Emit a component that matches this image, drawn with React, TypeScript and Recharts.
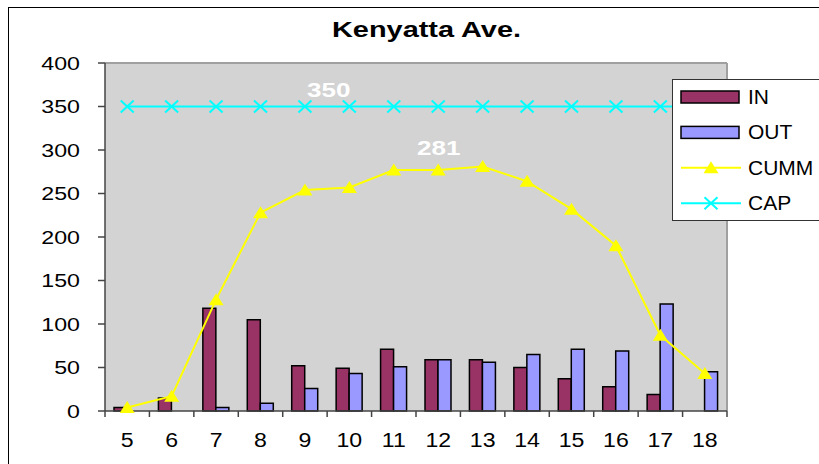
import React from "react";
import {
  Bar,
  CartesianGrid,
  ComposedChart,
  LabelList,
  Legend,
  Line,
  XAxis,
  YAxis,
} from "recharts";

const hours = ["5", "6", "7", "8", "9", "10", "11", "12", "13", "14", "15", "16", "17", "18"];
const inflow = [4, 15, 118, 105, 52, 49, 71, 59, 59, 50, 37, 28, 19, 0];
const outflow = [0, 0, 4, 9, 26, 43, 51, 59, 56, 65, 71, 69, 123, 45];
const cumulative = [4, 17, 128, 228, 254, 257, 277, 277, 281, 264, 232, 190, 87, 43];
const capacity = [350, 350, 350, 350, 350, 350, 350, 350, 350, 350, 350, 350, 350, 350];
const yTicks = [0, 50, 100, 150, 200, 250, 300, 350, 400];
const keyOrder = ["IN", "OUT", "CUMM", "CAP"];

const data = hours.map((hour, i) => ({
  hour,
  IN: inflow[i],
  OUT: outflow[i],
  CUMM: cumulative[i],
  CAP: capacity[i],
  base: 0,
}));

const FONT = "'Liberation Sans', Arial, sans-serif";
const AXIS = "#444";
const X_LABEL_GAP = 21;

const CHART_W = 810;
const CHART_H = 456;
const Y_AXIS_W = 96;
const MARGIN = { top: 55, right: 92, bottom: 52, left: 0 };
// half of one hour band on the category axis
const HALF_BAND = (CHART_W - Y_AXIS_W - MARGIN.left - MARGIN.right) / hours.length / 2;

function YTick({ x, y, payload }: any) {
  return (
    <text
      transform={`translate(${x},${y}) scale(1.22,1)`}
      textAnchor="end"
      dy="0.355em"
      fontSize={19}
      fontFamily={FONT}
      fill="#000"
    >
      {payload.value}
    </text>
  );
}

function XTick({ x, y, payload }: any) {
  return (
    <text
      transform={`translate(${x},${y}) scale(1.1,1)`}
      textAnchor="middle"
      dy="0.71em"
      fontSize={21}
      fontFamily={FONT}
      fill="#000"
    >
      {payload.value}
    </text>
  );
}

// short tick marks hanging below the x axis on the band edges (Excel style)
function EdgeTick({ cx, cy, index }: any) {
  if (cx == null || cy == null) return null;
  const last = index === hours.length - 1;
  return (
    <g stroke={AXIS} strokeWidth={1.5}>
      <line x1={cx - HALF_BAND} y1={cy} x2={cx - HALF_BAND} y2={cy + 6} />
      {last && <line x1={cx + HALF_BAND} y1={cy} x2={cx + HALF_BAND} y2={cy + 6} />}
    </g>
  );
}

function TriangleDot({ cx, cy }: any) {
  if (cx == null || cy == null) return null;
  return (
    <polygon
      points={`${cx},${cy - 6.5} ${cx + 7.5},${cy + 5.5} ${cx - 7.5},${cy + 5.5}`}
      fill="#ffff00"
    />
  );
}

function CrossDot({ cx, cy }: any) {
  if (cx == null || cy == null) return null;
  return (
    <g stroke="#00ffff" strokeWidth={2}>
      <line x1={cx - 6.5} y1={cy - 6} x2={cx + 6.5} y2={cy + 6} />
      <line x1={cx - 6.5} y1={cy + 6} x2={cx + 6.5} y2={cy - 6} />
    </g>
  );
}

// white bold value labels, only on one chosen point of a series
function pointLabel(at: number, dx: number, dy: number, anchor: string) {
  return function PointLabel(props: any) {
    const { x, y, value, index } = props;
    if (index !== at || x == null || y == null) return null;
    return (
      <text
        transform={`translate(${x + dx},${y + dy}) scale(1.24,1)`}
        textAnchor={anchor}
        fontSize={21}
        fontWeight="bold"
        fontFamily={FONT}
        fill="#fff"
      >
        {value}
      </text>
    );
  };
}

function KeyBox({ payload }: any) {
  const items = (payload || [])
    .filter((entry: any) => keyOrder.includes(entry.dataKey))
    .sort((a: any, b: any) => keyOrder.indexOf(a.dataKey) - keyOrder.indexOf(b.dataKey));
  return (
    <svg width={160} height={143} style={{ display: "block" }}>
      <rect x={0.5} y={0.5} width={170} height={141} fill="#fff" stroke="#333" />
      {items.map((entry: any, i: number) => {
        const cy = 18 + i * 35.4;
        const key = entry.dataKey;
        let swatch;
        if (key === "CUMM" || key === "CAP") {
          swatch = (
            <g>
              <line x1={9} y1={cy} x2={69} y2={cy} stroke={entry.color} strokeWidth={2} />
              {key === "CUMM" ? <TriangleDot cx={39} cy={cy} /> : <CrossDot cx={39} cy={cy} />}
            </g>
          );
        } else {
          swatch = (
            <rect x={9} y={cy - 6} width={58} height={12} fill={entry.color} stroke="#000" strokeWidth={1.5} />
          );
        }
        return (
          <g key={key}>
            {swatch}
            <text
              transform={`translate(76,${cy + 7}) scale(1.05,1)`}
              fontSize={20}
              fontFamily={FONT}
              fill="#000"
            >
              {entry.value}
            </text>
          </g>
        );
      })}
    </svg>
  );
}

export default function App() {
  return (
    <div
      style={{
        position: "fixed",
        left: 8,
        top: 7,
        width: 811,
        height: 457,
        borderTop: "1px solid #000",
        borderLeft: "1px solid #000",
        overflow: "hidden",
        background: "#fff",
      }}
    >
      <ComposedChart width={CHART_W} height={CHART_H} data={data} margin={MARGIN} barGap={0}>
        {/* grey plot area with a lighter frame on the top and right edges */}
        <CartesianGrid
          fill="#d3d3d3"
          stroke="#a0a0a0"
          strokeWidth={2}
          horizontalCoordinatesGenerator={({ offset }: any) => [offset.top]}
          verticalCoordinatesGenerator={({ offset }: any) => [offset.left + offset.width]}
        />
        <XAxis
          dataKey="hour"
          height={1}
          tickSize={0}
          tickMargin={X_LABEL_GAP}
          tickLine={false}
          axisLine={{ stroke: AXIS, strokeWidth: 1.5 }}
          tick={<XTick />}
          interval={0}
        />
        <YAxis
          width={Y_AXIS_W}
          domain={[0, 400]}
          ticks={yTicks}
          tickSize={7}
          tickMargin={18}
          axisLine={{ stroke: AXIS, strokeWidth: 1.5 }}
          tickLine={{ stroke: AXIS, strokeWidth: 1.5 }}
          tick={<YTick />}
        />
        <Legend
          layout="vertical"
          align="center"
          verticalAlign="middle"
          wrapperStyle={{ left: 663, top: 71, width: 160, height: 143 }}
          content={<KeyBox />}
        />
        <Bar dataKey="IN" name="IN" fill="#993366" stroke="#000" strokeWidth={1.5} barSize={13} isAnimationActive={false} />
        <Bar dataKey="OUT" name="OUT" fill="#9999ff" stroke="#000" strokeWidth={1.5} barSize={13} isAnimationActive={false} />
        {/* invisible series on the zero line, only used to place the edge ticks */}
        <Line
          dataKey="base"
          stroke="none"
          legendType="none"
          dot={<EdgeTick />}
          activeDot={false}
          isAnimationActive={false}
        />
        <Line
          dataKey="CUMM"
          name="CUMM"
          type="linear"
          stroke="#ffff00"
          strokeWidth={2}
          dot={<TriangleDot />}
          activeDot={false}
          isAnimationActive={false}
        >
          <LabelList dataKey="CUMM" content={pointLabel(8, -44, -12, "middle")} />
        </Line>
        <Line
          dataKey="CAP"
          name="CAP"
          type="linear"
          stroke="#00ffff"
          strokeWidth={2}
          dot={<CrossDot />}
          activeDot={false}
          isAnimationActive={false}
        >
          <LabelList dataKey="CAP" content={pointLabel(4, 2, -9.5, "start")} />
        </Line>
        <text
          x={417.5}
          y={29}
          textAnchor="middle"
          fontSize={22}
          fontWeight="bold"
          fontFamily={FONT}
          fill="#000"
          textLength={189}
          lengthAdjust="spacingAndGlyphs"
        >
          Kenyatta Ave.
        </text>
      </ComposedChart>
    </div>
  );
}
